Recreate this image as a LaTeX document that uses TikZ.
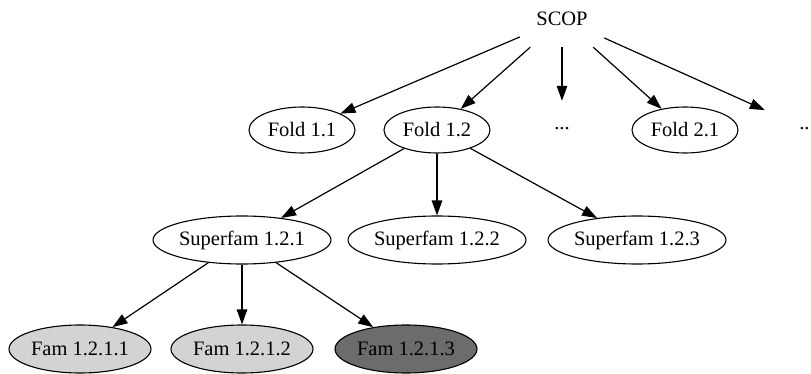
\documentclass[tikz,border=0pt]{standalone}
\usepackage{fontspec}
\setmainfont{Liberation Serif}
\usetikzlibrary{shapes.geometric,arrows.meta}
\definecolor{famlight}{RGB}{211,211,211}
\definecolor{famdark}{RGB}{108,108,108}
\begin{document}
\begin{tikzpicture}[x=1pt,y=-1pt,
  every node/.style={font=\fontsize{20.5}{24}\selectfont},
  plain/.style={rectangle,minimum width=84pt,minimum height=56pt,inner sep=0pt},
  oval/.style={ellipse,draw=black,line width=1.1pt,inner sep=0pt,minimum height=46pt},
  foldbox/.style={oval,minimum width=106pt},
  sfbox/.style={oval,minimum width=168pt,minimum height=48pt},
  fambox/.style={oval,minimum width=142pt,minimum height=48pt},
  edge/.style={-{Triangle[length=15pt,width=10.5pt]},line width=1.2pt}]
\useasboundingbox (0,0) rectangle (811,374);
\node[plain] (scop) at (562,19) {SCOP};
\node[foldbox] (f11) at (302,130) {Fold 1.1};
\node[foldbox] (f12) at (437,130) {Fold 1.2};
\node[plain] (d1) at (562,129) {...};
\node[foldbox] (f21) at (685,130) {Fold 2.1};
\node[plain] (d2) at (807,129) {...};
\node[sfbox] (s1) at (242,240) {Superfam 1.2.1};
\node[sfbox] (s2) at (437,240) {Superfam 1.2.2};
\node[sfbox] (s3) at (637,240) {Superfam 1.2.3};
\node[fambox,fill=famlight] (a1) at (80,349) {Fam 1.2.1.1};
\node[fambox,fill=famlight] (a2) at (242,349) {Fam 1.2.1.2};
\node[fambox,fill=famdark] (a3) at (406,349) {Fam 1.2.1.3};
\draw[edge] (scop) -- (f11);
\draw[edge] (scop) -- (f12);
\draw[edge] (scop) -- (d1);
\draw[edge] (scop) -- (f21);
\draw[edge] (scop) -- (d2);
\draw[edge] (f12) -- (s1);
\draw[edge] (f12) -- (s2);
\draw[edge] (f12) -- (s3);
\draw[edge] (s1) -- (a1);
\draw[edge] (s1) -- (a2);
\draw[edge] (s1) -- (a3);
\end{tikzpicture}
\end{document}
